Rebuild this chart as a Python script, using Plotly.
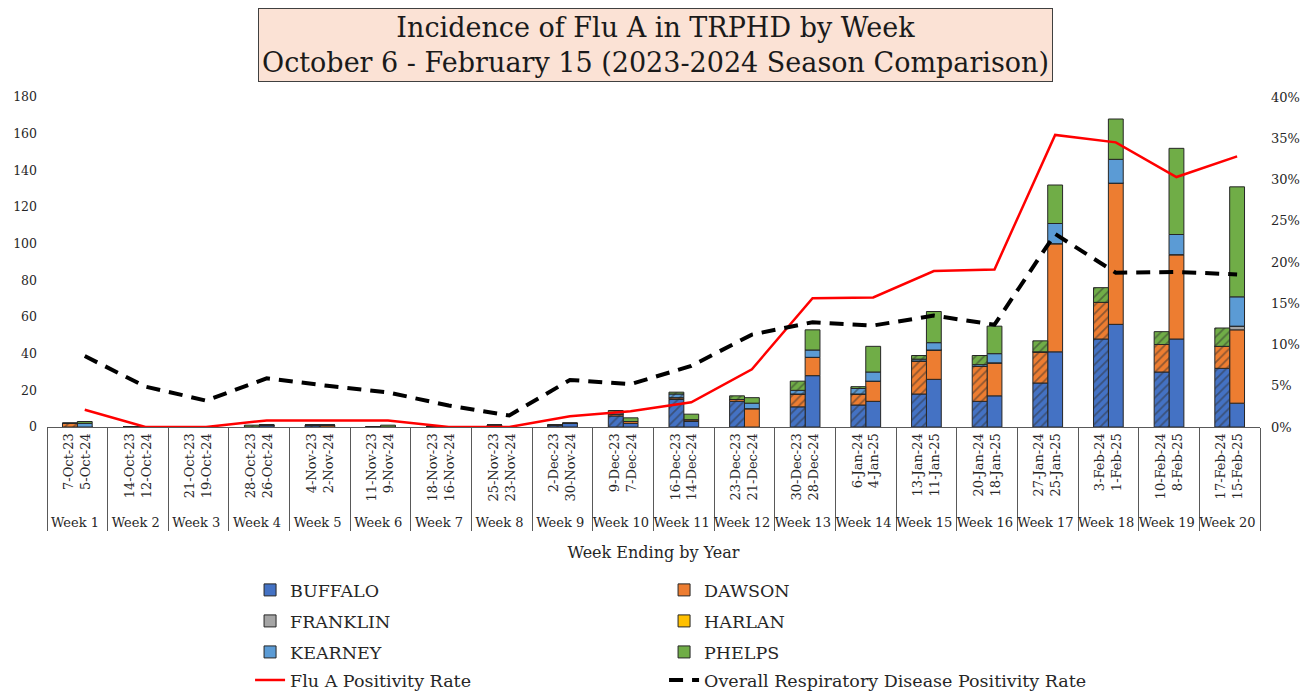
import numpy as np
import plotly.graph_objects as go

# categories
weeks = [f"Week {i}" for i in range(1, 21)]
dates_2023 = ["7-Oct-23", "14-Oct-23", "21-Oct-23", "28-Oct-23", "4-Nov-23", "11-Nov-23", "18-Nov-23",
              "25-Nov-23", "2-Dec-23", "9-Dec-23", "16-Dec-23", "23-Dec-23", "30-Dec-23", "6-Jan-24",
              "13-Jan-24", "20-Jan-24", "27-Jan-24", "3-Feb-24", "10-Feb-24", "17-Feb-24"]
dates_2024 = ["5-Oct-24", "12-Oct-24", "19-Oct-24", "26-Oct-24", "2-Nov-24", "9-Nov-24", "16-Nov-24",
              "23-Nov-24", "30-Nov-24", "7-Dec-24", "14-Dec-24", "21-Dec-24", "28-Dec-24", "4-Jan-25",
              "11-Jan-25", "18-Jan-25", "25-Jan-25", "1-Feb-25", "8-Feb-25", "15-Feb-25"]

counties = ["BUFFALO", "DAWSON", "FRANKLIN", "HARLAN", "KEARNEY", "PHELPS"]
county_colors = ["#4472C4", "#ED7D31", "#A5A5A5", "#FFC000", "#5B9BD5", "#70AD47"]

# 2023-2024 season (hatched bars)
buffalo_2023 = [0, 0, 0, 0, 1, 0, 0, 0, 1, 6, 15, 14, 11, 12, 18, 14, 24, 48, 30, 32]
dawson_2023 = [2, 0, 0, 0, 0, 0, 0, 1, 0, 1, 1, 1, 7, 6, 18, 19, 17, 20, 15, 12]
franklin_2023 = [0] * 20
harlan_2023 = [0] * 20
kearney_2023 = [0, 0, 0, 0, 0, 0, 0, 0, 0, 1, 2, 0, 2, 3, 1, 1, 0, 0, 0, 0]
phelps_2023 = [0, 0, 0, 1, 0, 0, 0, 0, 0, 1, 1, 2, 5, 1, 2, 5, 6, 8, 7, 10]

# 2024-2025 season (solid bars)
buffalo_2024 = [0, 0, 0, 1, 0, 0, 0, 0, 2, 2, 3, 0, 28, 14, 26, 17, 41, 56, 48, 13]
dawson_2024 = [0, 0, 0, 0, 1, 0, 0, 0, 0, 1, 1, 10, 10, 11, 16, 18, 59, 77, 46, 40]
franklin_2024 = [0] * 19 + [2]
harlan_2024 = [0] * 20
kearney_2024 = [2, 0, 0, 0, 0, 0, 0, 0, 0, 0, 0, 3, 4, 5, 4, 5, 11, 13, 11, 16]
phelps_2024 = [1, 0, 0, 0, 0, 1, 0, 0, 0, 2, 3, 3, 11, 14, 17, 15, 21, 22, 47, 60]

# positivity rates (%)
flu_a_rate = [2.1, 0, 0, 0.8, 0.8, 0.8, 0, 0, 1.3, 1.9, 3.0, 7.0, 15.6, 15.7, 18.9, 19.1, 35.4, 34.5, 30.3, 32.8]
overall_rate = [8.6, 4.9, 3.2, 5.9, 5.0, 4.2, 2.6, 1.4, 5.7, 5.2, 7.4, 11.2, 12.7, 12.3, 13.5, 12.4, 23.4, 18.7,
                18.8, 18.5]

season_2023 = [buffalo_2023, dawson_2023, franklin_2023, harlan_2023, kearney_2023, phelps_2023]
season_2024 = [buffalo_2024, dawson_2024, franklin_2024, harlan_2024, kearney_2024, phelps_2024]

FONT = "DejaVu Serif"
TEXT = "#262626"
BAR_W = 0.245
x_cat = [weeks, [f"{a}<br>{b}" for a, b in zip(dates_2023, dates_2024)]]

# one legend per row so the row spacing can match the original
legend_rows = ["legend", "legend", "legend2", "legend2", "legend3", "legend3"]

fig = go.Figure()

# solid bars (2024-2025) - these carry the legend
base = np.zeros(20)
for name, color, vals, lg in zip(counties, county_colors, season_2024, legend_rows):
    fig.add_trace(go.Bar(x=x_cat, y=vals, base=base.copy(), name=name, width=BAR_W, offset=0, legend=lg,
                         marker=dict(color=color, line=dict(color=TEXT, width=1))))
    base += np.array(vals)

# hatched bars (2023-2024)
base = np.zeros(20)
for name, color, vals in zip(counties, county_colors, season_2023):
    fig.add_trace(go.Bar(x=x_cat, y=vals, base=base.copy(), name=name + " 2023-24", width=BAR_W, offset=-BAR_W,
                         showlegend=False,
                         marker=dict(color=color, line=dict(color=TEXT, width=1),
                                     pattern=dict(shape="/", fgcolor="#303030", size=6, solidity=0.3,
                                                  fillmode="overlay"))))
    base += np.array(vals)

# lines sit over the centre of the 2024-25 bar
line_x = np.arange(20) + BAR_W / 2
fig.add_trace(go.Scatter(x=line_x, y=np.array(flu_a_rate) / 100, name="Flu A Positivity Rate", mode="lines",
                         line=dict(color="#FF0000", width=2.5), xaxis="x2", yaxis="y2", legend="legend4"))
fig.add_trace(go.Scatter(x=line_x, y=np.array(overall_rate) / 100,
                         name="Overall Respiratory Disease Positivity Rate", mode="lines",
                         line=dict(color="black", width=4, dash="14px,9px"), xaxis="x2", yaxis="y2",
                         legend="legend5"))

legend_style = dict(orientation="h", x=0.1674, xanchor="left", yanchor="middle", entrywidth=369,
                    font=dict(size=17.5, family=FONT, color=TEXT), traceorder="normal", itemwidth=30,
                    bgcolor="rgba(0,0,0,0)")

fig.update_layout(
    width=1313, height=691,
    margin=dict(l=39, r=61, t=89, b=272, autoexpand=False),
    plot_bgcolor="white", paper_bgcolor="white",
    font=dict(family=FONT, color=TEXT, size=13),
    barmode="overlay",
    showlegend=True,
    legend=dict(legend_style, y=-0.494),
    legend2=dict(legend_style, y=-0.588),
    legend3=dict(legend_style, y=-0.682),
    legend4=dict(legend_style, y=-0.767),
    legend5=dict(legend_style, y=-0.767, x=0.5087, entrywidth=0),
    xaxis=dict(type="multicategory", range=[-0.5, 19.5], tickangle=-90, showline=True, linecolor="#595959",
               linewidth=1, showdividers=True, dividercolor="#595959", dividerwidth=1, ticks="",
               tickfont=dict(size=13, family=FONT, color=TEXT),
               title=dict(text="Week Ending by Year", font=dict(size=16, family=FONT, color=TEXT),
                          standoff=17)),
    xaxis2=dict(overlaying="x", range=[-0.5, 19.5], visible=False),
    yaxis=dict(range=[0, 180], dtick=20, showgrid=False, zeroline=False, showline=False, ticklabelstandoff=9,
               tickfont=dict(size=12.5, family=FONT, color=TEXT)),
    yaxis2=dict(range=[0, 0.4], dtick=0.05, tickformat=".0%", overlaying="y", side="right", showgrid=False,
                zeroline=False, showline=False, ticklabelstandoff=10,
                tickfont=dict(size=13, family=FONT, color=TEXT)),
    annotations=[dict(text="Incidence of Flu A in TRPHD by Week<br>October 6 - February 15 (2023-2024 Season Comparison)",
                      xref="paper", yref="paper", x=0.502, y=1.27, xanchor="center", yanchor="top",
                      showarrow=False, font=dict(size=27, family=FONT, color="#1a1a1a"),
                      bgcolor="#FBE2D5", bordercolor="#404040", borderwidth=1, borderpad=3)],
    shapes=[dict(type="line", xref="paper", yref="paper", x0=-0.0223, x1=1.05, y0=1.285, y1=1.285,
                 line=dict(color="#DDDDDD", width=2))],
)

fig.write_html("out.html")
